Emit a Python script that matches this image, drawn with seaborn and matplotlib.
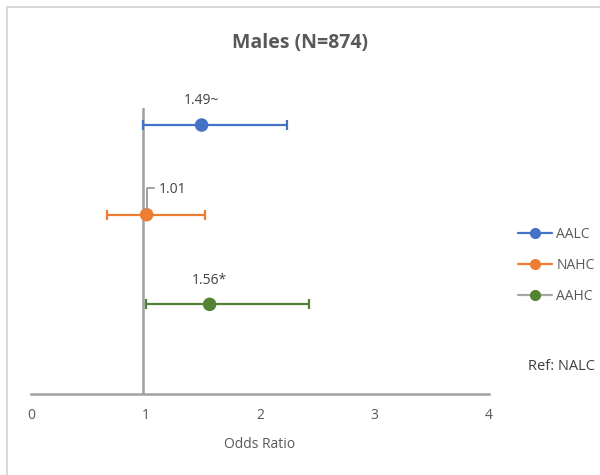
import matplotlib
matplotlib.use("Agg")
import matplotlib.pyplot as plt
import seaborn as sns
import pandas as pd
from matplotlib.lines import Line2D
from matplotlib.patches import Rectangle

# ---- data ----
groups = ["AALC", "NAHC", "AAHC"]
odds_ratio = [1.49, 1.01, 1.56]
ci_low = [0.98, 0.66, 1.00]
ci_high = [2.24, 1.52, 2.43]
point_labels = ["1.49~", "1.01", "1.56*"]
row_pos = [3, 2, 1]
x_ticks = [0, 1, 2, 3, 4]
ref_line_x = 0.975
title = "Males (N=874)"
x_label = "Odds Ratio"
ref_text = "Ref: NALC"

colors = ["#4472C4", "#ED7D31", "#548235"]
legend_line_colors = ["#4472C4", "#ED7D31", "#A5A5A5"]

df = pd.DataFrame({"group": groups, "OR": odds_ratio, "lo": ci_low,
                   "hi": ci_high, "row": row_pos})

sns.set_theme(style="white")
plt.rcParams["font.family"] = ["Open Sans", "DejaVu Sans"]

fig = plt.figure(figsize=(6.0, 4.75), dpi=100)
ax = fig.add_axes([31/600, 81/475, (489-31)/600, (394-108)/475])

# chart border
fig.add_artist(Rectangle((7/600, -0.1), 1.2, 1 - 7/475 + 0.1, transform=fig.transFigure,
                         fill=False, edgecolor="#D9D9D9", linewidth=1.5))

# reference line
ax.plot([ref_line_x, ref_line_x], [0, 3.19], color="#A0A0A0", linewidth=1.8, zorder=1)

for i, r in df.iterrows():
    ax.errorbar(r["OR"], r["row"], xerr=[[r["OR"] - r["lo"]], [r["hi"] - r["OR"]]],
                fmt="none", ecolor=colors[i], elinewidth=1.6, capsize=3.5,
                capthick=1.6, zorder=2)

sns.scatterplot(data=df, x="OR", y="row", hue="group", palette=colors, s=95,
                edgecolor="none", legend=False, ax=ax, zorder=3)

# data labels
ax.text(odds_ratio[0], row_pos[0] + 0.27, point_labels[0], ha="center", va="center",
        fontsize=10, color="#404040")
ax.text(odds_ratio[2], row_pos[2] + 0.27, point_labels[2], ha="center", va="center",
        fontsize=10, color="#404040")
# leader-line label for 1.01
ax.plot([odds_ratio[1], odds_ratio[1], odds_ratio[1] + 0.06],
        [row_pos[1] + 0.05, row_pos[1] + 0.30, row_pos[1] + 0.30],
        color="#9A9A9A", linewidth=1.3, zorder=4)
ax.text(odds_ratio[1] + 0.11, row_pos[1] + 0.28, point_labels[1], ha="left", va="center",
        fontsize=10, color="#404040")

ax.set_xlim(0, 4)
ax.set_ylim(0, 3.19)
ax.set_xticks(x_ticks)
ax.set_xticklabels([str(t) for t in x_ticks], fontsize=10, color="#595959")
ax.set_yticks([])
ax.set_xlabel(x_label, fontsize=10, color="#595959", labelpad=10)
ax.set_ylabel("")
ax.tick_params(axis="x", length=0, pad=10)
for side in ["top", "right", "left"]:
    ax.spines[side].set_visible(False)
ax.spines["bottom"].set_color("#A0A0A0")
ax.spines["bottom"].set_linewidth(1.8)
ax.set_facecolor("none")
ax.patch.set_alpha(0)

fig.text(0.5, 1 - 43/475, title, ha="center", va="center", fontsize=14,
         fontweight="bold", color="#595959")

handles = [Line2D([0], [0], color=legend_line_colors[i], linewidth=1.6, marker="o",
                  markersize=7, markerfacecolor=colors[i], markeredgecolor=colors[i])
           for i in range(3)]
fig.legend(handles, groups, loc="upper left", bbox_to_anchor=(518/600, 1 - 227/475),
           frameon=False, fontsize=10, labelspacing=1.15, handlelength=2.45,
           handletextpad=0.3, borderpad=0, borderaxespad=0, labelcolor="#595959")

fig.text(561/600, 1 - 367/475, ref_text, ha="center", va="center", fontsize=10.5,
         color="#404040")

fig.savefig("out.png", dpi=100)
